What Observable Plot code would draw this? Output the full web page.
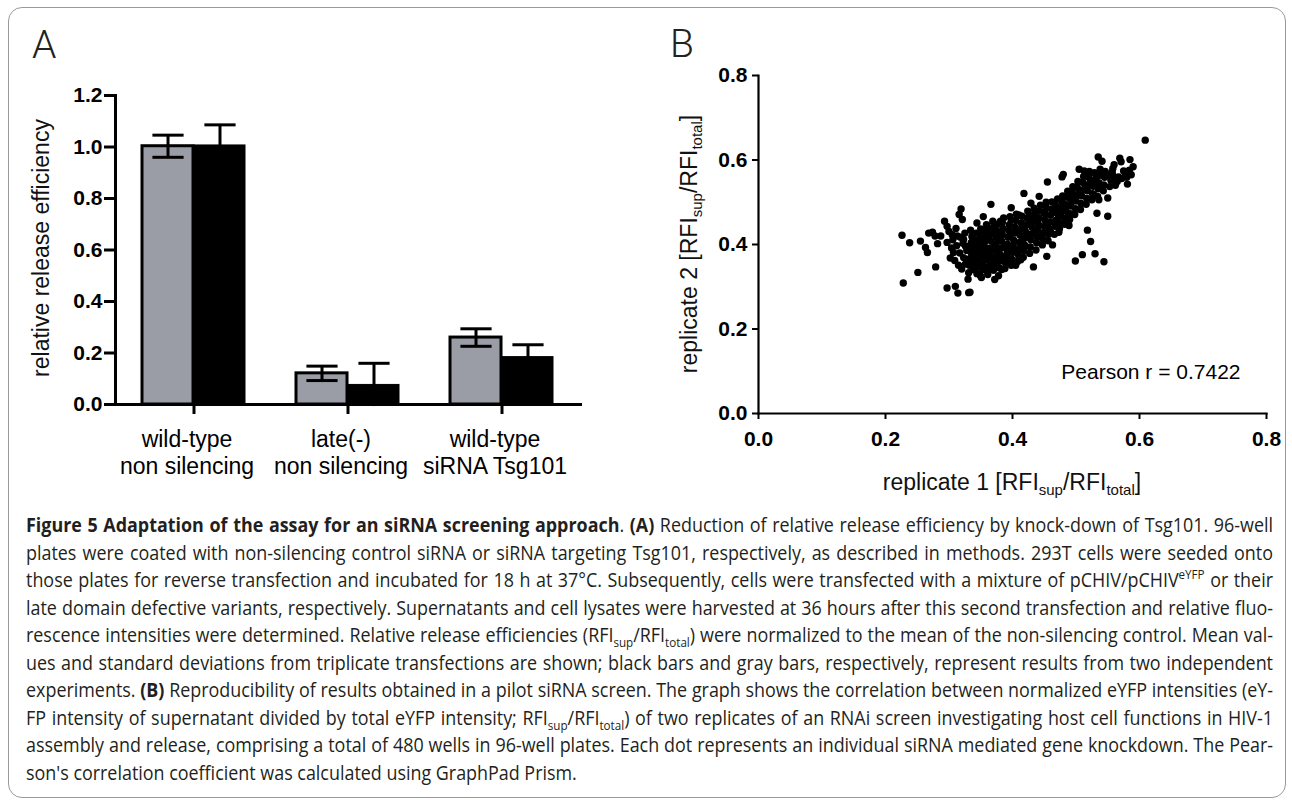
<!DOCTYPE html>
<html>
<head>
<meta charset="utf-8">
<script src="https://cdn.jsdelivr.net/npm/d3@7"></script>
<script src="https://cdn.jsdelivr.net/npm/@observablehq/plot@0.6"></script>
<style>
  html, body { margin: 0; padding: 0; background: #fff; }
  #fig { position: relative; width: 1292px; height: 800px; overflow: hidden; font-family: "Liberation Sans", Arial, sans-serif; }
  #border { position: absolute; left: 8px; top: 7px; width: 1278px; height: 791px; border: 1.5px solid #999; border-radius: 14px; box-sizing: border-box; }
  #panelA { position: absolute; left: 0; top: 0; }
  #panelB { position: absolute; left: 640px; top: 0; }
  #overlay { position: absolute; left: 0; top: 0; pointer-events: none; }
  #caption { position: absolute; left: 26px; top: 511px; transform-origin: 0 0; font-family: "Open Sans", Lato, sans-serif; font-size: 20px; line-height: 27.5px; color: #231f20; }
  #caption .ln { text-align: justify; text-align-last: justify; height: 27.5px; }
  #caption .ln.last { text-align-last: left; }
  #caption sub, #caption sup { font-size: 13px; line-height: 0; }
  #measure { position: absolute; left: -5000px; top: 0; white-space: nowrap; font-family: "Open Sans", Lato, sans-serif; font-size: 20px; }
  #measure sub, #measure sup { font-size: 13px; line-height: 0; }
</style>
</head>
<body>
<div id="fig">
  <div id="border"></div>
  <div id="panelA"></div>
  <div id="panelB"></div>
  <svg id="overlay" width="1292" height="800"></svg>
  <div id="caption"></div>
</div>
<div id="measure"></div>
<script>
// ---------------- Panel A data ----------------
const categories = ["wild-type\nnon silencing", "late(-)\nnon silencing", "wild-type\nsiRNA Tsg101"];
const grayMean  = [1.003, 0.121, 0.260];
const graySD    = [0.043, 0.028, 0.034];
const blackMean = [1.006, 0.076, 0.184];
const blackSD   = [0.080, 0.084, 0.048];
const yTicksA   = [0, 0.2, 0.4, 0.6, 0.8, 1.0, 1.2];

// ---------------- Panel B data ----------------
const xTicksB = [0, 0.2, 0.4, 0.6, 0.8];
const yTicksB = [0, 0.2, 0.4, 0.6, 0.8];
const pearson = "Pearson r = 0.7422";
// [replicate 1, replicate 2]
const scatterEdge = [
 [0.226,0.422],[0.228,0.309],[0.238,0.404],[0.251,0.334],[0.255,0.408],[0.263,0.393],[0.266,0.381],[0.268,0.427],
 [0.274,0.429],[0.278,0.420],[0.279,0.347],[0.282,0.402],[0.287,0.420],[0.293,0.455],[0.297,0.443],[0.300,0.431],
 [0.297,0.405],[0.297,0.297],[0.305,0.423],[0.307,0.381],[0.310,0.301],[0.313,0.420],[0.314,0.285],[0.316,0.471],
 [0.319,0.484],[0.321,0.459],[0.323,0.412],[0.326,0.396],[0.329,0.359],[0.333,0.287],[0.334,0.434],[0.336,0.400],
 [0.339,0.372],[0.342,0.345],[0.344,0.451],[0.347,0.384],[0.349,0.327],[0.354,0.466],[0.355,0.423],[0.357,0.392],
 [0.359,0.364],[0.361,0.337],[0.366,0.495],[0.372,0.317],[0.381,0.455],[0.383,0.341],[0.398,0.487],[0.405,0.351],
 [0.413,0.364],[0.418,0.521],[0.429,0.498],[0.433,0.347],[0.442,0.514],[0.455,0.548],[0.454,0.372],[0.463,0.399],
 [0.467,0.498],[0.473,0.429],[0.478,0.560],[0.480,0.566],[0.489,0.445],[0.499,0.361],[0.505,0.578],[0.513,0.574],
 [0.510,0.376],[0.518,0.434],[0.523,0.407],[0.530,0.378],[0.533,0.474],[0.535,0.607],[0.541,0.597],[0.544,0.359],
 [0.550,0.467],[0.550,0.510],[0.558,0.580],[0.562,0.540],[0.569,0.604],[0.571,0.596],[0.578,0.565],[0.581,0.543],
 [0.585,0.601],[0.587,0.565],[0.590,0.584],[0.551,0.565],[0.558,0.563],[0.536,0.506],[0.528,0.518],[0.609,0.647],
 [0.331,0.286]
];
const scatterCore = [
 [0.302,0.368],[0.304,0.392],[0.306,0.411],[0.309,0.362],[0.311,0.438],[0.312,0.397],[0.315,0.351],[0.317,0.380],
 [0.318,0.417],[0.320,0.342],[0.322,0.403],[0.323,0.369],[0.325,0.427],[0.326,0.354],[0.328,0.386],[0.330,0.318],
 [0.331,0.333],[0.332,0.351],[0.333,0.367],[0.334,0.383],[0.335,0.404],[0.336,0.419],[0.338,0.341],[0.339,0.358],
 [0.340,0.377],[0.341,0.393],[0.342,0.410],[0.343,0.427],[0.344,0.331],[0.345,0.349],[0.346,0.365],[0.347,0.380],
 [0.348,0.398],[0.349,0.414],[0.350,0.437],[0.351,0.322],[0.352,0.342],[0.353,0.356],[0.354,0.372],[0.355,0.389],
 [0.356,0.405],[0.357,0.419],[0.358,0.431],[0.359,0.447],
 [0.361,0.329],[0.362,0.347],[0.363,0.362],[0.364,0.378],[0.365,0.392],[0.366,0.409],[0.367,0.425],[0.368,0.440],
 [0.369,0.455],[0.370,0.339],[0.371,0.354],[0.372,0.370],[0.373,0.386],[0.374,0.400],[0.375,0.416],[0.376,0.431],
 [0.377,0.448],[0.378,0.326],[0.379,0.345],[0.380,0.361],[0.381,0.376],[0.382,0.392],[0.383,0.408],[0.384,0.423],
 [0.385,0.438],[0.386,0.463],
 [0.388,0.343],[0.389,0.356],[0.390,0.372],[0.391,0.388],[0.392,0.401],[0.393,0.417],[0.394,0.433],[0.395,0.447],
 [0.396,0.466],[0.398,0.351],[0.399,0.365],[0.400,0.381],[0.401,0.397],[0.402,0.410],[0.403,0.427],[0.404,0.441],
 [0.405,0.457],[0.406,0.472],[0.408,0.360],[0.409,0.377],[0.410,0.390],[0.411,0.405],[0.412,0.422],[0.413,0.437],
 [0.414,0.451],[0.415,0.467],[0.417,0.370],[0.418,0.386],[0.419,0.399],[0.420,0.416],[0.421,0.430],[0.422,0.446],
 [0.423,0.462],[0.424,0.479],
 [0.427,0.379],[0.428,0.394],[0.429,0.411],[0.430,0.425],[0.431,0.441],[0.432,0.455],[0.433,0.471],[0.434,0.486],
 [0.437,0.387],[0.438,0.404],[0.439,0.418],[0.440,0.434],[0.441,0.447],[0.442,0.463],[0.443,0.479],[0.444,0.493],
 [0.447,0.399],[0.448,0.413],[0.449,0.428],[0.450,0.443],[0.451,0.458],[0.452,0.472],[0.453,0.487],[0.456,0.409],
 [0.457,0.424],[0.458,0.437],[0.459,0.453],[0.460,0.469],[0.461,0.484],[0.462,0.501],
 [0.466,0.424],[0.467,0.443],[0.468,0.457],[0.469,0.475],[0.470,0.489],[0.471,0.508],[0.474,0.437],[0.475,0.451],
 [0.476,0.469],[0.477,0.483],[0.478,0.501],[0.479,0.515],[0.482,0.448],[0.483,0.462],[0.484,0.480],[0.485,0.494],
 [0.486,0.512],[0.487,0.526],[0.490,0.459],[0.491,0.473],[0.492,0.491],[0.493,0.505],[0.494,0.523],[0.495,0.537],
 [0.498,0.471],[0.499,0.485],[0.500,0.503],[0.501,0.517],[0.502,0.535],[0.503,0.549],
 [0.507,0.483],[0.508,0.497],[0.509,0.515],[0.510,0.529],[0.511,0.547],[0.512,0.561],[0.516,0.495],[0.517,0.509],
 [0.518,0.527],[0.519,0.541],[0.520,0.559],[0.521,0.573],[0.525,0.506],[0.526,0.520],[0.527,0.538],[0.528,0.552],
 [0.529,0.570],[0.534,0.514],[0.535,0.532],[0.536,0.546],[0.537,0.564],[0.538,0.578],[0.543,0.527],[0.544,0.541],
 [0.545,0.559],[0.546,0.573],
 [0.553,0.537],[0.555,0.552],[0.557,0.571],[0.560,0.589],[0.565,0.549],[0.567,0.560],[0.572,0.556],[0.575,0.574],
 [0.580,0.559],[0.584,0.576]
];
const scatterFill = [
 [0.335,0.392],[0.343,0.372],[0.352,0.398],[0.358,0.383],[0.362,0.415],[0.366,0.369],[0.371,0.397],[0.377,0.384],
 [0.380,0.412],[0.387,0.395],[0.392,0.379],[0.396,0.420],[0.401,0.388],[0.406,0.430],[0.410,0.366],[0.416,0.410],
 [0.419,0.441],[0.425,0.421],[0.429,0.452],[0.435,0.430],[0.440,0.460],[0.445,0.420],[0.450,0.475],[0.455,0.445],
 [0.460,0.430],[0.465,0.480],[0.472,0.462],[0.480,0.490],[0.488,0.470],[0.495,0.510],[0.505,0.520],[0.515,0.535],
 [0.523,0.550],[0.532,0.560],[0.347,0.358],[0.356,0.340],[0.365,0.350],[0.374,0.360],[0.383,0.370],[0.392,0.360],
 [0.338,0.412],[0.348,0.425],[0.360,0.435],[0.372,0.445],[0.384,0.452],[0.398,0.458],[0.410,0.470],[0.426,0.466],
 [0.438,0.478],[0.453,0.500]
];

// ---------------- Caption text ----------------
const captionLines = [
 "<b>Figure 5 Adaptation of the assay for an siRNA screening approach</b>. <b>(A)</b> Reduction of relative release efficiency by knock-down of Tsg101. 96-well",
 "plates were coated with non-silencing control siRNA or siRNA targeting Tsg101, respectively, as described in methods. 293T cells were seeded onto",
 "those plates for reverse transfection and incubated for 18 h at 37°C. Subsequently, cells were transfected with a mixture of pCHIV/pCHIV<sup>eYFP</sup> or their",
 "late domain defective variants, respectively. Supernatants and cell lysates were harvested at 36 hours after this second transfection and relative fluo-",
 "rescence intensities were determined. Relative release efficiencies (RFI<sub>sup</sub>/RFI<sub>total</sub>) were normalized to the mean of the non-silencing control. Mean val-",
 "ues and standard deviations from triplicate transfections are shown; black bars and gray bars, respectively, represent results from two independent",
 "experiments. <b>(B)</b> Reproducibility of results obtained in a pilot siRNA screen. The graph shows the correlation between normalized eYFP intensities (eY-",
 "FP intensity of supernatant divided by total eYFP intensity; RFI<sub>sup</sub>/RFI<sub>total</sub>) of two replicates of an RNAi screen investigating host cell functions in HIV-1",
 "assembly and release, comprising a total of 480 wells in 96-well plates. Each dot represents an individual siRNA mediated gene knockdown. The Pear-",
 "son's correlation coefficient was calculated using GraphPad Prism."
];

const FONT = "'Liberation Sans', Arial, Helvetica, sans-serif";

// horizontal cap symbol for error bars
const hline = { draw(ctx, size) { const r = Math.sqrt(size / Math.PI); ctx.moveTo(-r, 0); ctx.lineTo(r, 0); } };

// ---------------- Panel A ----------------
const gray  = categories.map((c, i) => ({cat: c, mean: grayMean[i],  sd: graySD[i]}));
const black = categories.map((c, i) => ({cat: c, mean: blackMean[i], sd: blackSD[i]}));

const A = {width: 640, height: 500, ml: 115, mr: 60, mt: 95, mb: 96};
const xOpts = {domain: categories, paddingInner: 0.329, paddingOuter: 0.165, align: 0.5};
const sx = Plot.scale({x: {type: "band", ...xOpts, range: [A.ml, A.width - A.mr]}});
const half = sx.bandwidth / 2;      // each series takes half of a category band
const capR = half * 0.3;             // half-width of error caps

const plotA = Plot.plot({
  width: A.width, height: A.height,
  marginLeft: A.ml, marginRight: A.mr, marginTop: A.mt, marginBottom: A.mb,
  x: xOpts,
  y: {domain: [0, 1.2]},
  style: {fontFamily: FONT, color: "black", background: "transparent", overflow: "visible"},
  marks: [
    Plot.barY(gray,  {x: "cat", y: "mean", fill: "#9a9da5", stroke: "black", strokeWidth: 3, insetRight: half}),
    Plot.barY(black, {x: "cat", y: "mean", fill: "black", stroke: "black", strokeWidth: 1, insetLeft: half}),
    Plot.ruleX(gray,  {x: "cat", y1: d => d.mean - d.sd, y2: d => d.mean + d.sd, dx: -half / 2, stroke: "black", strokeWidth: 3}),
    Plot.ruleX(black, {x: "cat", y1: d => d.mean - d.sd, y2: d => d.mean + d.sd, dx:  half / 2, stroke: "black", strokeWidth: 3}),
    Plot.dot(gray,  {x: "cat", y: d => d.mean + d.sd, dx: -half / 2, symbol: hline, r: capR, stroke: "black", strokeWidth: 3}),
    Plot.dot(gray,  {x: "cat", y: d => d.mean - d.sd, dx: -half / 2, symbol: hline, r: capR, stroke: "black", strokeWidth: 3}),
    Plot.dot(black, {x: "cat", y: d => d.mean + d.sd, dx:  half / 2, symbol: hline, r: capR, stroke: "black", strokeWidth: 3}),
    Plot.axisY({ticks: yTicksA, tickFormat: d3.format(".1f"), tickSize: 11, tickPadding: 2, fontSize: 21, fontWeight: "bold", label: null, strokeWidth: 3}),
    Plot.axisX({tickSize: 10, tickFormat: () => "", label: null, strokeWidth: 3}),
    Plot.axisX({tickSize: 0, tickPadding: 23, dx: -7, fontSize: 23, lineHeight: 1.17, label: null}),
    Plot.frame({anchor: "left", strokeWidth: 3}),
    Plot.frame({anchor: "bottom", strokeWidth: 3})
  ]
});
document.getElementById("panelA").appendChild(plotA);

// ---------------- Panel B ----------------
const points = scatterEdge.concat(scatterCore, scatterFill);
const B = {width: 652, height: 520, ml: 118, mr: 26, mt: 75, mb: 107};
const plotB = Plot.plot({
  width: B.width, height: B.height,
  marginLeft: B.ml, marginRight: B.mr, marginTop: B.mt, marginBottom: B.mb,
  x: {domain: [0, 0.8]},
  y: {domain: [0, 0.8]},
  style: {fontFamily: FONT, color: "black", background: "transparent", overflow: "visible"},
  marks: [
    Plot.dot(points, {x: d => d[0], y: d => d[1], r: 3.7, fill: "black"}),
    Plot.axisY({ticks: yTicksB, tickFormat: d3.format(".1f"), tickSize: 6, tickPadding: 5, fontSize: 21, fontWeight: "bold", label: null, strokeWidth: 2}),
    Plot.axisX({ticks: xTicksB, tickFormat: d3.format(".1f"), tickSize: 6, tickPadding: 12, fontSize: 21, fontWeight: "bold", label: null, strokeWidth: 2}),
    Plot.frame({anchor: "left", strokeWidth: 2.2}),
    Plot.frame({anchor: "bottom", strokeWidth: 2.2}),
    Plot.text([pearson], {frameAnchor: "bottom-right", dx: -26, dy: -35, textAnchor: "end", lineAnchor: "bottom", fontSize: 21})
  ]
});
document.getElementById("panelB").appendChild(plotB);

// ---------------- Overlay: panel letters, axis titles ----------------
const ov = d3.select("#overlay");
ov.append("text").attr("x", 32).attr("y", 58).attr("font-family", "Roboto, " + FONT).attr("font-weight", 300)
  .attr("font-size", 39).attr("fill", "#222").text("A");
ov.append("text").attr("x", 670).attr("y", 57).attr("font-family", "Roboto, " + FONT).attr("font-weight", 300)
  .attr("font-size", 39).attr("fill", "#222").text("B");

ov.append("text").attr("transform", "translate(49,248) rotate(-90)").attr("text-anchor", "middle")
  .attr("font-family", FONT).attr("font-size", 23).attr("fill", "#111").text("relative release efficiency");

function rfiLabel(sel, prefix) {
  sel.append("tspan").text(prefix + "[RFI");
  sel.append("tspan").attr("font-size", 15).attr("dy", 5).text("sup");
  sel.append("tspan").attr("dy", -5).text("/RFI");
  sel.append("tspan").attr("font-size", 15).attr("dy", 5).text("total");
  sel.append("tspan").attr("dy", -5).text("]");
}
const xl = ov.append("text").attr("x", 1012).attr("y", 490).attr("text-anchor", "middle")
  .attr("font-family", FONT).attr("font-size", 23).attr("fill", "#111");
rfiLabel(xl, "replicate 1 ");
const yl = ov.append("text").attr("transform", "translate(697,244) rotate(-90)").attr("text-anchor", "middle")
  .attr("font-family", FONT).attr("font-size", 23).attr("fill", "#111");
rfiLabel(yl, "replicate 2 ");

// ---------------- Caption (justified, horizontally condensed) ----------------
const capW = 1247;
const meas = document.getElementById("measure");
let maxW = 0;
captionLines.forEach(l => {
  const s = document.createElement("span");
  s.innerHTML = l;
  meas.appendChild(s);
  maxW = Math.max(maxW, s.getBoundingClientRect().width);
  meas.appendChild(document.createElement("br"));
});
const k = capW / (maxW + 2);
const cap = document.getElementById("caption");
cap.style.transform = `scaleX(${k})`;
cap.style.width = (capW / k) + "px";
captionLines.forEach((l, i) => {
  const d = document.createElement("div");
  d.className = "ln" + (i === captionLines.length - 1 ? " last" : "");
  d.innerHTML = l;
  cap.appendChild(d);
});
meas.remove();
</script>
</body>
</html>
